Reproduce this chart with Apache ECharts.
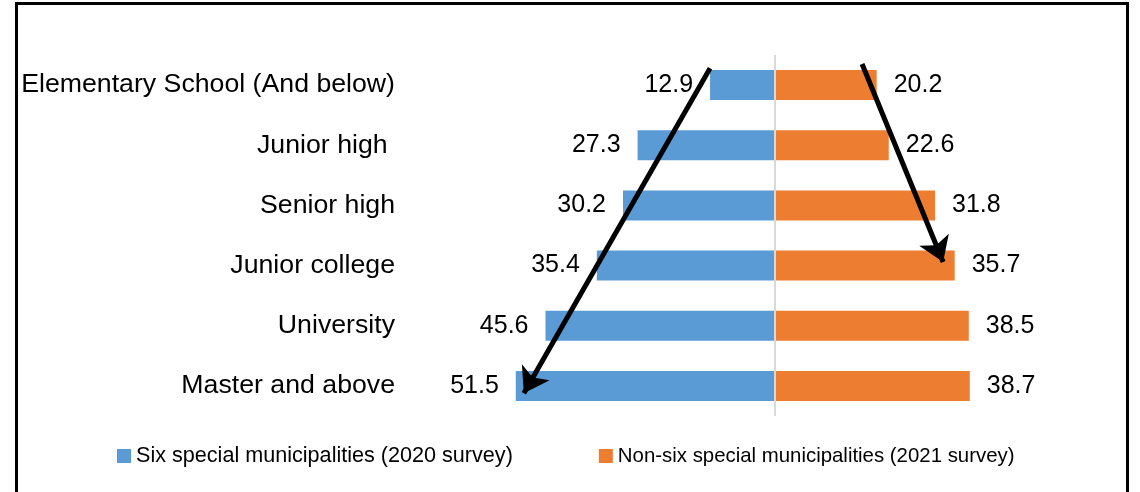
<!DOCTYPE html>
<html>
<head>
<meta charset="utf-8">
<script src="https://cdn.jsdelivr.net/npm/echarts@6/dist/echarts.min.js"></script>
<style>
html,body{margin:0;padding:0;background:#fff;}
#chart{width:1140px;height:492px;}
</style>
</head>
<body>
<div id="chart"></div>
<script>
const categories = ['Elementary School (And below)', 'Junior high ', 'Senior high', 'Junior college', 'University', 'Master and above'];
const sixValues = [12.9, 27.3, 30.2, 35.4, 45.6, 51.5];
const nonSixValues = [20.2, 22.6, 31.8, 35.7, 38.5, 38.7];
const seriesNames = ['Six special municipalities (2020 survey)', 'Non-six special municipalities (2021 survey)'];
// annotation arrows: [x value, category position] start -> tip
const arrowLeft = [[-12.9, -0.28], [-49.9, 5.12]];
const arrowRight = [[17.3, -0.35], [33.4, 2.94]];

const FONT = 'Liberation Sans';
const chart = echarts.init(document.getElementById('chart'));
chart.setOption({
  animation: false,
  backgroundColor: '#fff',
  textStyle: { fontFamily: FONT },
  graphic: [{
    type: 'rect', shape: { x: 16.5, y: 3.5, width: 1111, height: 500 },
    style: { fill: 'none', stroke: '#000', lineWidth: 3 }, z: 100
  }],
  legend: {
    left: 112, top: 440,
    itemWidth: 14, itemHeight: 14, itemGap: 86,
    icon: 'rect',
    formatter: name => (name === seriesNames[1] ? '{b|' : '{a|') + name + '}',
    textStyle: {
      fontSize: 21.6, color: '#000', fontFamily: FONT,
      rich: {
        a: { fontSize: 21.6, color: '#000', fontFamily: FONT },
        b: { fontSize: 20.4, color: '#000', fontFamily: FONT }
      }
    },
    data: seriesNames
  },
  grid: { left: 473, right: 63, top: 55, bottom: 76, containLabel: false },
  xAxis: {
    type: 'value', min: -60, max: 60,
    axisLine: { show: false }, axisTick: { show: false },
    axisLabel: { show: false }, splitLine: { show: false }
  },
  yAxis: [{
    type: 'category', inverse: true, data: categories,
    axisLine: { show: false }, axisTick: { show: false },
    axisLabel: { fontSize: 26.7, color: '#000', margin: 78, fontFamily: FONT }
  }, {
    type: 'value', min: -0.5, max: 5.5, inverse: true, show: false
  }],
  series: [{
    name: seriesNames[0], type: 'bar', stack: 'tot', barWidth: 30,
    data: sixValues.map(v => -v),
    itemStyle: { color: '#5B9BD5' },
    label: { show: true, position: 'left', distance: 17, fontSize: 25, color: '#000',
      fontFamily: FONT, formatter: p => Math.abs(p.value).toFixed(1) },
    markLine: {
      silent: true, symbol: ['none', 'none'], label: { show: false },
      lineStyle: { color: '#D9D9D9', width: 2, type: 'solid' },
      data: [{ xAxis: 0 }], z: 5
    }
  }, {
    name: seriesNames[1], type: 'bar', stack: 'tot', barWidth: 30,
    data: nonSixValues,
    itemStyle: { color: '#ED7D31' },
    label: { show: true, position: 'right', distance: 17, fontSize: 25, color: '#000',
      fontFamily: FONT, formatter: p => p.value.toFixed(1) }
  }, {
    type: 'lines', coordinateSystem: 'cartesian2d', xAxisIndex: 0, yAxisIndex: 1,
    symbol: ['none', 'arrow'], symbolSize: [20, 24], z: 10, silent: true,
    lineStyle: { color: '#000', width: 5, opacity: 1, curveness: 0 },
    data: [{ coords: arrowLeft }, { coords: arrowRight }]
  }]
});
</script>
</body>
</html>
